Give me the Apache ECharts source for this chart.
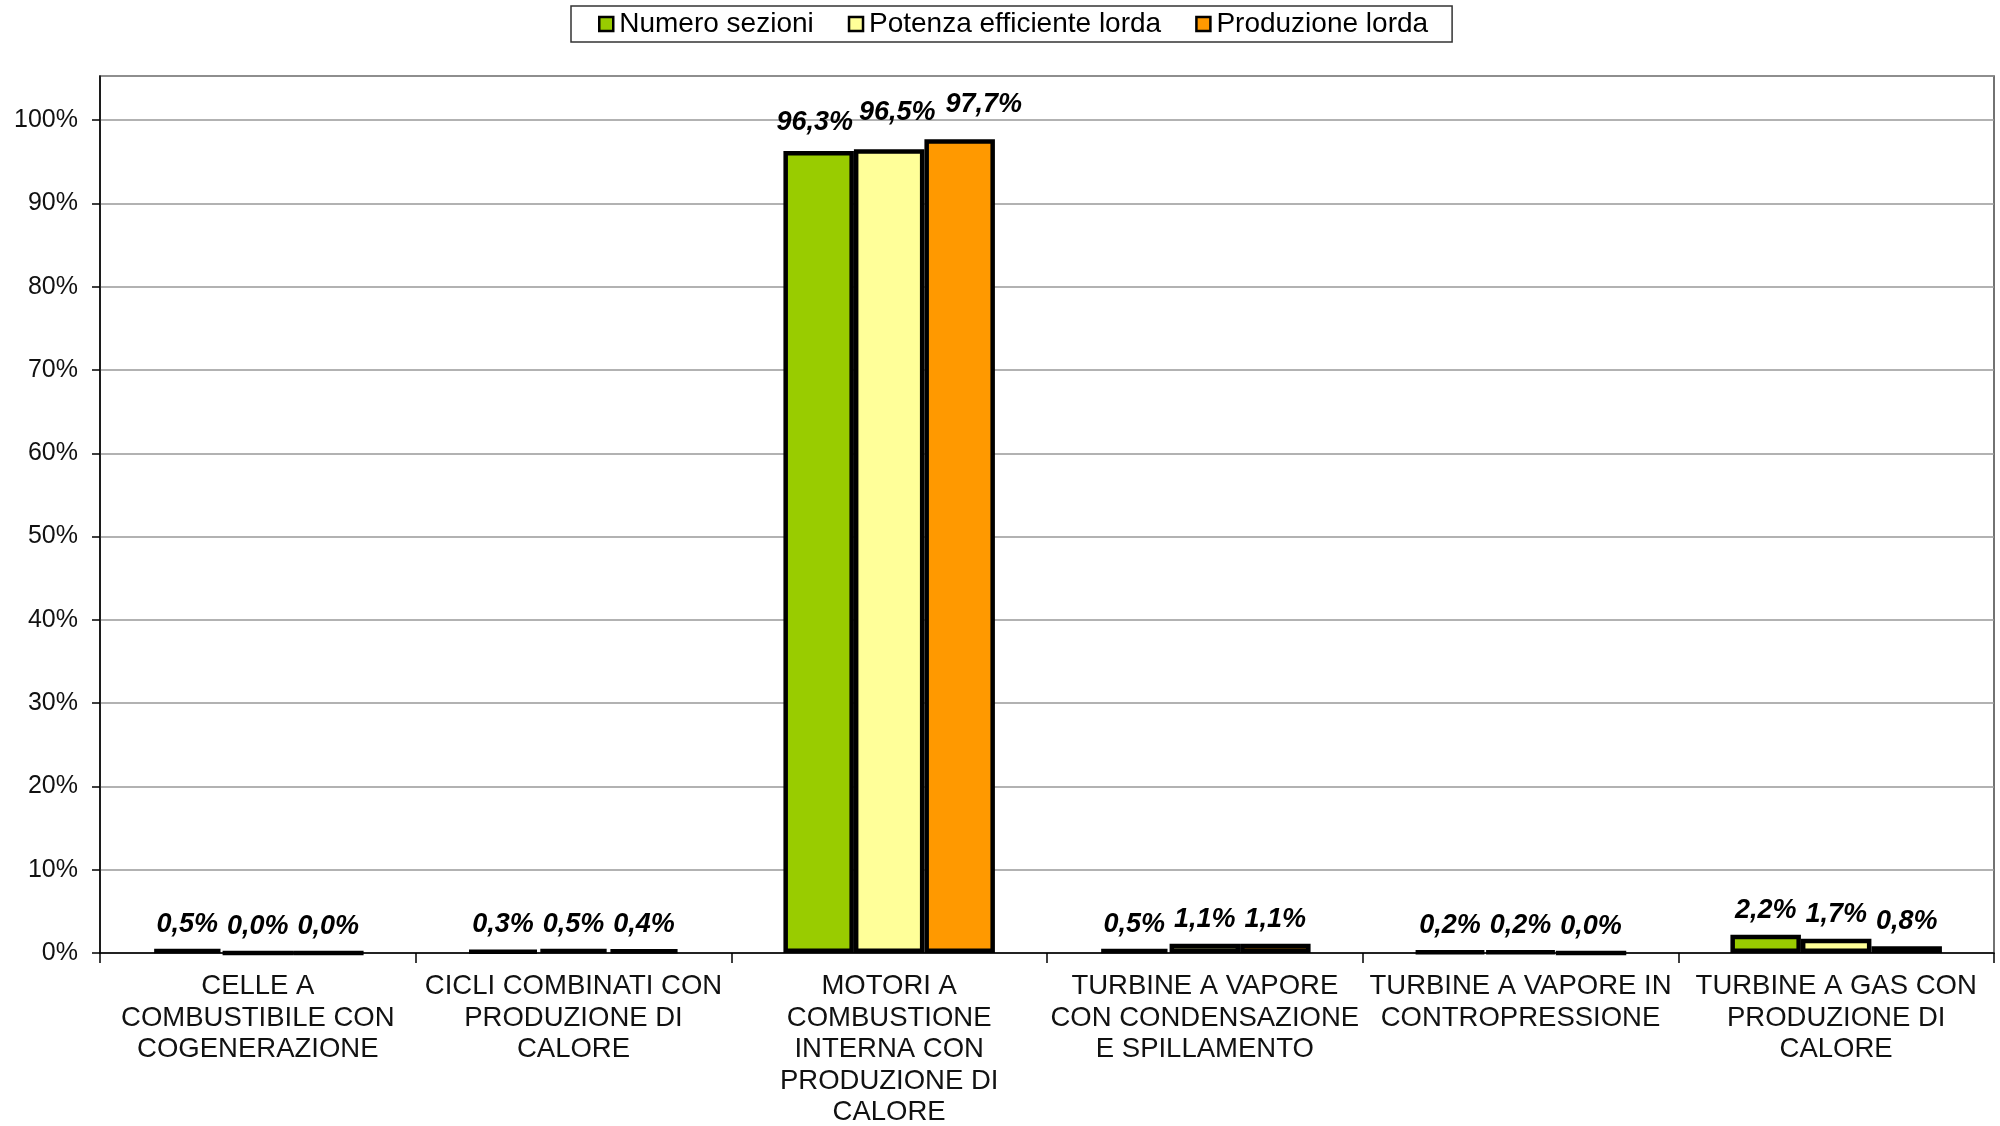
<!DOCTYPE html>
<html>
<head>
<meta charset="utf-8">
<script src="https://cdn.jsdelivr.net/npm/echarts@6/dist/echarts.min.js"></script>
<style>
  html, body { margin: 0; padding: 0; background: #fff; }
  #chart { width: 2000px; height: 1126px; }
</style>
</head>
<body>
<div id="chart"></div>
<script>
// categorie (asse x)
var categorie = [
  'CELLE A\nCOMBUSTIBILE CON\nCOGENERAZIONE',
  'CICLI COMBINATI CON\nPRODUZIONE DI\nCALORE',
  'MOTORI A\nCOMBUSTIONE\nINTERNA CON\nPRODUZIONE DI\nCALORE',
  'TURBINE A VAPORE\nCON CONDENSAZIONE\nE SPILLAMENTO',
  'TURBINE A VAPORE IN\nCONTROPRESSIONE',
  'TURBINE A GAS CON\nPRODUZIONE DI\nCALORE'
];

var nomiSerie = ['Numero sezioni', 'Potenza efficiente lorda', 'Produzione lorda'];

// valori in %
var numeroSezioni = [0.5, 0.3, 96.3, 0.5, 0.2, 2.2];
var potenzaLorda = [0.0, 0.5, 96.5, 1.1, 0.2, 1.7];
var produzioneLorda = [0.0, 0.4, 97.7, 1.1, 0.0, 0.8];

var colori = ['#99cc00', '#ffff99', '#ff9900'];

// spostamento etichette sulle barre alte (come nell'originale, per non sovrapporle)
var spostaEtichette = [[-4, -4], [8, -12], [24, -10]];

function etichetta(p) {
  return p.value.toFixed(1).replace('.', ',') + '%';
}

function serie(i, dati) {
  return {
    name: nomiSerie[i],
    type: 'bar',
    data: dati,
    barGap: '0%',
    barCategoryGap: '33%',
    itemStyle: { color: colori[i], borderColor: '#000', borderWidth: 4.5 },
    label: {
      show: true,
      position: 'top',
      distance: 11,
      color: '#000',
      fontSize: 27,
      fontStyle: 'italic',
      fontWeight: 'bold',
      fontFamily: 'Liberation Sans, Arial, sans-serif',
      formatter: etichetta
    },
    labelLayout: function (p) {
      if (p.dataIndex === 2) {
        return { dx: spostaEtichette[i][0], dy: spostaEtichette[i][1] };
      }
      return {};
    }
  };
}

var chart = echarts.init(document.getElementById('chart'), null, { renderer: 'canvas' });

chart.setOption({
  animation: false,
  color: colori,
  textStyle: { fontFamily: 'Liberation Sans, Arial, sans-serif' },
  legend: {
    top: 6,
    left: 571,
    padding: [4, 24, 4, 27],
    borderColor: '#333',
    borderWidth: 1.5,
    itemGap: 34,
    itemWidth: 14,
    itemHeight: 14,
    icon: 'rect',
    itemStyle: { borderColor: '#000', borderWidth: 2.5 },
    textStyle: { fontSize: 28, color: '#000', padding: [0, 0, 0, 1] },
    data: nomiSerie
  },
  grid: {
    left: 100,
    right: 6,
    top: 76,
    bottom: 173,
    show: true,
    borderColor: '#444',
    borderWidth: 1.5,
    outerBoundsMode: 'none',
    containLabel: false
  },
  xAxis: {
    type: 'category',
    data: categorie,
    axisLine: { lineStyle: { color: '#000', width: 1.5 } },
    axisTick: { show: true, length: 10, lineStyle: { color: '#000', width: 1.5 } },
    axisLabel: {
      interval: 0,
      color: '#111',
      fontSize: 27.5,
      lineHeight: 31.5,
      margin: 18
    }
  },
  yAxis: {
    type: 'value',
    min: 0,
    max: 105.3,
    interval: 10,
    axisLine: { show: true, lineStyle: { color: '#000', width: 1.5 } },
    axisTick: { show: true, length: 8, lineStyle: { color: '#000', width: 1.5 } },
    axisLabel: {
      showMaxLabel: false,
      color: '#111',
      fontSize: 25,
      margin: 22,
      formatter: '{value}%'
    },
    splitLine: { lineStyle: { color: '#999', width: 1.5 } }
  },
  series: [
    serie(0, numeroSezioni),
    serie(1, potenzaLorda),
    serie(2, produzioneLorda)
  ]
});
</script>
</body>
</html>
